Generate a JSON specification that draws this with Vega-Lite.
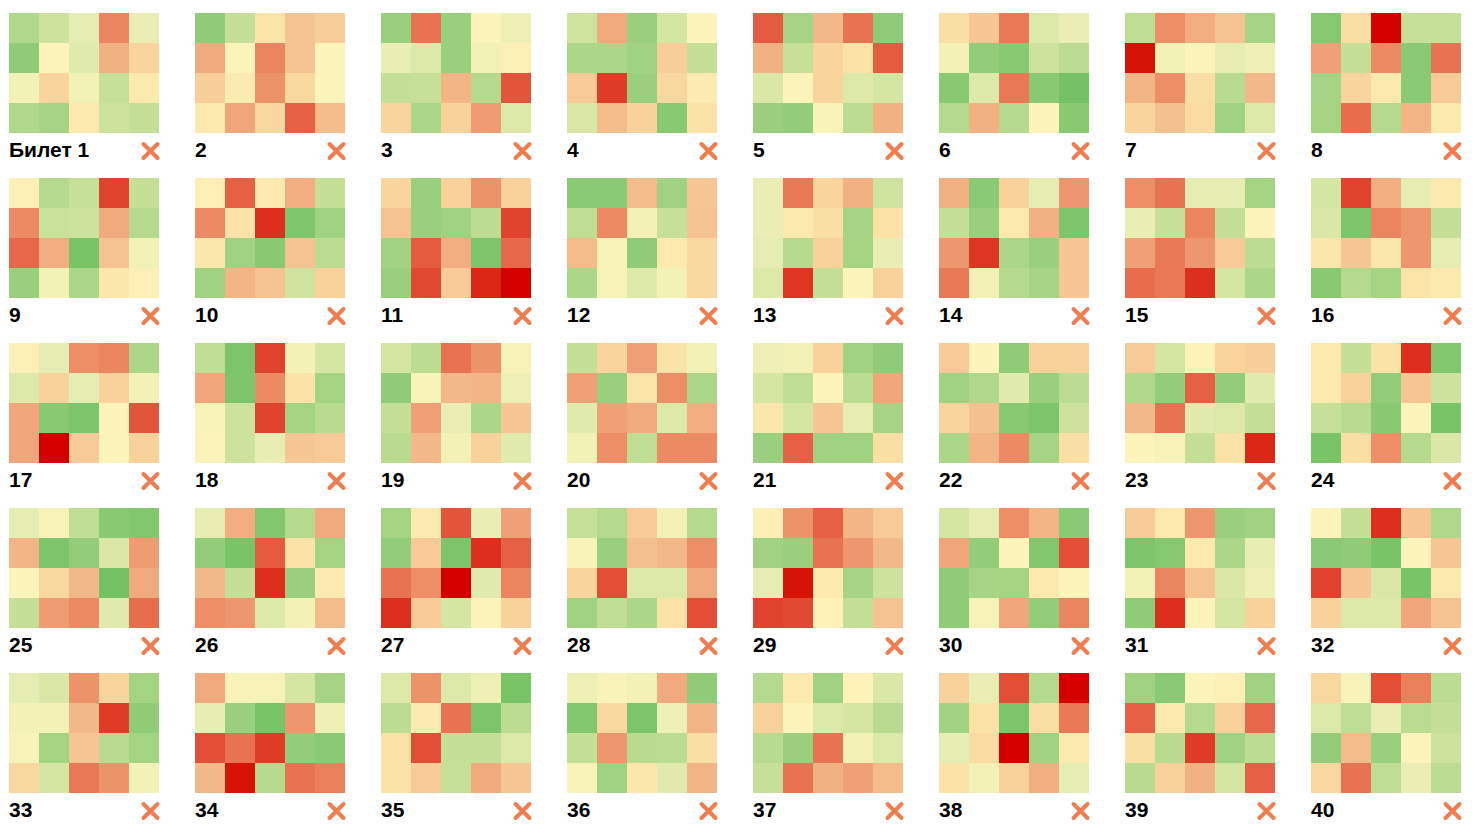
{
"$schema": "https://vega.github.io/schema/vega-lite/v6.json",
"padding": {"left": 9, "top": 13, "right": 0, "bottom": 0},
"autosize": {"type": "pad"},
"background": "white",
"bounds": "flush",
"data": {"values": [
{"t":1,"name":"Билет 1"},{"t":2,"name":"2"},{"t":3,"name":"3"},{"t":4,"name":"4"},{"t":5,"name":"5"},{"t":6,"name":"6"},{"t":7,"name":"7"},{"t":8,"name":"8"},{"t":9,"name":"9"},{"t":10,"name":"10"},
{"t":11,"name":"11"},{"t":12,"name":"12"},{"t":13,"name":"13"},{"t":14,"name":"14"},{"t":15,"name":"15"},{"t":16,"name":"16"},{"t":17,"name":"17"},{"t":18,"name":"18"},{"t":19,"name":"19"},{"t":20,"name":"20"},
{"t":21,"name":"21"},{"t":22,"name":"22"},{"t":23,"name":"23"},{"t":24,"name":"24"},{"t":25,"name":"25"},{"t":26,"name":"26"},{"t":27,"name":"27"},{"t":28,"name":"28"},{"t":29,"name":"29"},{"t":30,"name":"30"},
{"t":31,"name":"31"},{"t":32,"name":"32"},{"t":33,"name":"33"},{"t":34,"name":"34"},{"t":35,"name":"35"},{"t":36,"name":"36"},{"t":37,"name":"37"},{"t":38,"name":"38"},{"t":39,"name":"39"},{"t":40,"name":"40"},
{"t":1,"r":1,"c":1,"v":20},{"t":1,"r":1,"c":2,"v":30},{"t":1,"r":1,"c":3,"v":40},{"t":1,"r":1,"c":4,"v":82},{"t":1,"r":1,"c":5,"v":42},{"t":1,"r":2,"c":1,"v":10},{"t":1,"r":2,"c":2,"v":50},{"t":1,"r":2,"c":3,"v":38},{"t":1,"r":2,"c":4,"v":72},{"t":1,"r":2,"c":5,"v":62},{"t":1,"r":3,"c":1,"v":45},{"t":1,"r":3,"c":2,"v":62},{"t":1,"r":3,"c":3,"v":45},{"t":1,"r":3,"c":4,"v":28},{"t":1,"r":3,"c":5,"v":55},{"t":1,"r":4,"c":1,"v":20},{"t":1,"r":4,"c":2,"v":17},{"t":1,"r":4,"c":3,"v":55},{"t":1,"r":4,"c":4,"v":30},{"t":1,"r":4,"c":5,"v":27},
{"t":2,"r":1,"c":1,"v":10},{"t":2,"r":1,"c":2,"v":27},{"t":2,"r":1,"c":3,"v":57},{"t":2,"r":1,"c":4,"v":67},{"t":2,"r":1,"c":5,"v":64},{"t":2,"r":2,"c":1,"v":74},{"t":2,"r":2,"c":2,"v":50},{"t":2,"r":2,"c":3,"v":82},{"t":2,"r":2,"c":4,"v":67},{"t":2,"r":2,"c":5,"v":50},{"t":2,"r":3,"c":1,"v":64},{"t":2,"r":3,"c":2,"v":54},{"t":2,"r":3,"c":3,"v":79},{"t":2,"r":3,"c":4,"v":61},{"t":2,"r":3,"c":5,"v":50},{"t":2,"r":4,"c":1,"v":55},{"t":2,"r":4,"c":2,"v":75},{"t":2,"r":4,"c":3,"v":61},{"t":2,"r":4,"c":4,"v":88},{"t":2,"r":4,"c":5,"v":69},
{"t":3,"r":1,"c":1,"v":13},{"t":3,"r":1,"c":2,"v":85},{"t":3,"r":1,"c":3,"v":13},{"t":3,"r":1,"c":4,"v":50},{"t":3,"r":1,"c":5,"v":44},{"t":3,"r":2,"c":1,"v":42},{"t":3,"r":2,"c":2,"v":36},{"t":3,"r":2,"c":3,"v":13},{"t":3,"r":2,"c":4,"v":45},{"t":3,"r":2,"c":5,"v":52},{"t":3,"r":3,"c":1,"v":27},{"t":3,"r":3,"c":2,"v":28},{"t":3,"r":3,"c":3,"v":71},{"t":3,"r":3,"c":4,"v":22},{"t":3,"r":3,"c":5,"v":90},{"t":3,"r":4,"c":1,"v":62},{"t":3,"r":4,"c":2,"v":19},{"t":3,"r":4,"c":3,"v":63},{"t":3,"r":4,"c":4,"v":77},{"t":3,"r":4,"c":5,"v":36},
{"t":4,"r":1,"c":1,"v":31},{"t":4,"r":1,"c":2,"v":74},{"t":4,"r":1,"c":3,"v":13},{"t":4,"r":1,"c":4,"v":33},{"t":4,"r":1,"c":5,"v":50},{"t":4,"r":2,"c":1,"v":19},{"t":4,"r":2,"c":2,"v":19},{"t":4,"r":2,"c":3,"v":15},{"t":4,"r":2,"c":4,"v":64},{"t":4,"r":2,"c":5,"v":27},{"t":4,"r":3,"c":1,"v":65},{"t":4,"r":3,"c":2,"v":94},{"t":4,"r":3,"c":3,"v":13},{"t":4,"r":3,"c":4,"v":61},{"t":4,"r":3,"c":5,"v":54},{"t":4,"r":4,"c":1,"v":35},{"t":4,"r":4,"c":2,"v":69},{"t":4,"r":4,"c":3,"v":63},{"t":4,"r":4,"c":4,"v":7},{"t":4,"r":4,"c":5,"v":58},
{"t":5,"r":1,"c":1,"v":89},{"t":5,"r":1,"c":2,"v":17},{"t":5,"r":1,"c":3,"v":70},{"t":5,"r":1,"c":4,"v":85},{"t":5,"r":1,"c":5,"v":10},{"t":5,"r":2,"c":1,"v":72},{"t":5,"r":2,"c":2,"v":28},{"t":5,"r":2,"c":3,"v":62},{"t":5,"r":2,"c":4,"v":58},{"t":5,"r":2,"c":5,"v":89},{"t":5,"r":3,"c":1,"v":35},{"t":5,"r":3,"c":2,"v":50},{"t":5,"r":3,"c":3,"v":62},{"t":5,"r":3,"c":4,"v":36},{"t":5,"r":3,"c":5,"v":33},{"t":5,"r":4,"c":1,"v":13},{"t":5,"r":4,"c":2,"v":11},{"t":5,"r":4,"c":3,"v":48},{"t":5,"r":4,"c":4,"v":24},{"t":5,"r":4,"c":5,"v":72},
{"t":6,"r":1,"c":1,"v":59},{"t":6,"r":1,"c":2,"v":66},{"t":6,"r":1,"c":3,"v":84},{"t":6,"r":1,"c":4,"v":36},{"t":6,"r":1,"c":5,"v":42},{"t":6,"r":2,"c":1,"v":46},{"t":6,"r":2,"c":2,"v":11},{"t":6,"r":2,"c":3,"v":7},{"t":6,"r":2,"c":4,"v":30},{"t":6,"r":2,"c":5,"v":24},{"t":6,"r":3,"c":1,"v":7},{"t":6,"r":3,"c":2,"v":36},{"t":6,"r":3,"c":3,"v":84},{"t":6,"r":3,"c":4,"v":7},{"t":6,"r":3,"c":5,"v":0},{"t":6,"r":4,"c":1,"v":22},{"t":6,"r":4,"c":2,"v":72},{"t":6,"r":4,"c":3,"v":22},{"t":6,"r":4,"c":4,"v":50},{"t":6,"r":4,"c":5,"v":7},
{"t":7,"r":1,"c":1,"v":25},{"t":7,"r":1,"c":2,"v":80},{"t":7,"r":1,"c":3,"v":73},{"t":7,"r":1,"c":4,"v":67},{"t":7,"r":1,"c":5,"v":17},{"t":7,"r":2,"c":1,"v":99},{"t":7,"r":2,"c":2,"v":45},{"t":7,"r":2,"c":3,"v":50},{"t":7,"r":2,"c":4,"v":40},{"t":7,"r":2,"c":5,"v":44},{"t":7,"r":3,"c":1,"v":71},{"t":7,"r":3,"c":2,"v":80},{"t":7,"r":3,"c":3,"v":59},{"t":7,"r":3,"c":4,"v":23},{"t":7,"r":3,"c":5,"v":70},{"t":7,"r":4,"c":1,"v":62},{"t":7,"r":4,"c":2,"v":68},{"t":7,"r":4,"c":3,"v":60},{"t":7,"r":4,"c":4,"v":15},{"t":7,"r":4,"c":5,"v":36},
{"t":8,"r":1,"c":1,"v":6},{"t":8,"r":1,"c":2,"v":59},{"t":8,"r":1,"c":3,"v":100},{"t":8,"r":1,"c":4,"v":28},{"t":8,"r":1,"c":5,"v":28},{"t":8,"r":2,"c":1,"v":76},{"t":8,"r":2,"c":2,"v":27},{"t":8,"r":2,"c":3,"v":81},{"t":8,"r":2,"c":4,"v":8},{"t":8,"r":2,"c":5,"v":85},{"t":8,"r":3,"c":1,"v":17},{"t":8,"r":3,"c":2,"v":62},{"t":8,"r":3,"c":3,"v":55},{"t":8,"r":3,"c":4,"v":8},{"t":8,"r":3,"c":5,"v":65},{"t":8,"r":4,"c":1,"v":16},{"t":8,"r":4,"c":2,"v":86},{"t":8,"r":4,"c":3,"v":22},{"t":8,"r":4,"c":4,"v":71},{"t":8,"r":4,"c":5,"v":55},
{"t":9,"r":1,"c":1,"v":52},{"t":9,"r":1,"c":2,"v":22},{"t":9,"r":1,"c":3,"v":28},{"t":9,"r":1,"c":4,"v":93},{"t":9,"r":1,"c":5,"v":27},{"t":9,"r":2,"c":1,"v":81},{"t":9,"r":2,"c":2,"v":29},{"t":9,"r":2,"c":3,"v":30},{"t":9,"r":2,"c":4,"v":74},{"t":9,"r":2,"c":5,"v":22},{"t":9,"r":3,"c":1,"v":87},{"t":9,"r":3,"c":2,"v":73},{"t":9,"r":3,"c":3,"v":2},{"t":9,"r":3,"c":4,"v":67},{"t":9,"r":3,"c":5,"v":45},{"t":9,"r":4,"c":1,"v":13},{"t":9,"r":4,"c":2,"v":45},{"t":9,"r":4,"c":3,"v":19},{"t":9,"r":4,"c":4,"v":56},{"t":9,"r":4,"c":5,"v":52},
{"t":10,"r":1,"c":1,"v":52},{"t":10,"r":1,"c":2,"v":88},{"t":10,"r":1,"c":3,"v":54},{"t":10,"r":1,"c":4,"v":73},{"t":10,"r":1,"c":5,"v":27},{"t":10,"r":2,"c":1,"v":81},{"t":10,"r":2,"c":2,"v":58},{"t":10,"r":2,"c":3,"v":96},{"t":10,"r":2,"c":4,"v":4},{"t":10,"r":2,"c":5,"v":15},{"t":10,"r":3,"c":1,"v":56},{"t":10,"r":3,"c":2,"v":15},{"t":10,"r":3,"c":3,"v":7},{"t":10,"r":3,"c":4,"v":67},{"t":10,"r":3,"c":5,"v":24},{"t":10,"r":4,"c":1,"v":15},{"t":10,"r":4,"c":2,"v":71},{"t":10,"r":4,"c":3,"v":67},{"t":10,"r":4,"c":4,"v":31},{"t":10,"r":4,"c":5,"v":63},
{"t":11,"r":1,"c":1,"v":62},{"t":11,"r":1,"c":2,"v":13},{"t":11,"r":1,"c":3,"v":63},{"t":11,"r":1,"c":4,"v":79},{"t":11,"r":1,"c":5,"v":63},{"t":11,"r":2,"c":1,"v":67},{"t":11,"r":2,"c":2,"v":13},{"t":11,"r":2,"c":3,"v":15},{"t":11,"r":2,"c":4,"v":24},{"t":11,"r":2,"c":5,"v":93},{"t":11,"r":3,"c":1,"v":15},{"t":11,"r":3,"c":2,"v":89},{"t":11,"r":3,"c":3,"v":73},{"t":11,"r":3,"c":4,"v":3},{"t":11,"r":3,"c":5,"v":87},{"t":11,"r":4,"c":1,"v":13},{"t":11,"r":4,"c":2,"v":92},{"t":11,"r":4,"c":3,"v":65},{"t":11,"r":4,"c":4,"v":97},{"t":11,"r":4,"c":5,"v":100},
{"t":12,"r":1,"c":1,"v":8},{"t":12,"r":1,"c":2,"v":8},{"t":12,"r":1,"c":3,"v":69},{"t":12,"r":1,"c":4,"v":15},{"t":12,"r":1,"c":5,"v":66},{"t":12,"r":2,"c":1,"v":25},{"t":12,"r":2,"c":2,"v":81},{"t":12,"r":2,"c":3,"v":46},{"t":12,"r":2,"c":4,"v":28},{"t":12,"r":2,"c":5,"v":67},{"t":12,"r":3,"c":1,"v":69},{"t":12,"r":3,"c":2,"v":47},{"t":12,"r":3,"c":3,"v":10},{"t":12,"r":3,"c":4,"v":55},{"t":12,"r":3,"c":5,"v":61},{"t":12,"r":4,"c":1,"v":19},{"t":12,"r":4,"c":2,"v":47},{"t":12,"r":4,"c":3,"v":36},{"t":12,"r":4,"c":4,"v":45},{"t":12,"r":4,"c":5,"v":61},
{"t":13,"r":1,"c":1,"v":42},{"t":13,"r":1,"c":2,"v":84},{"t":13,"r":1,"c":3,"v":62},{"t":13,"r":1,"c":4,"v":72},{"t":13,"r":1,"c":5,"v":31},{"t":13,"r":2,"c":1,"v":42},{"t":13,"r":2,"c":2,"v":55},{"t":13,"r":2,"c":3,"v":59},{"t":13,"r":2,"c":4,"v":17},{"t":13,"r":2,"c":5,"v":58},{"t":13,"r":3,"c":1,"v":40},{"t":13,"r":3,"c":2,"v":22},{"t":13,"r":3,"c":3,"v":63},{"t":13,"r":3,"c":4,"v":16},{"t":13,"r":3,"c":5,"v":42},{"t":13,"r":4,"c":1,"v":36},{"t":13,"r":4,"c":2,"v":95},{"t":13,"r":4,"c":3,"v":27},{"t":13,"r":4,"c":4,"v":50},{"t":13,"r":4,"c":5,"v":63},
{"t":14,"r":1,"c":1,"v":72},{"t":14,"r":1,"c":2,"v":8},{"t":14,"r":1,"c":3,"v":63},{"t":14,"r":1,"c":4,"v":40},{"t":14,"r":1,"c":5,"v":78},{"t":14,"r":2,"c":1,"v":27},{"t":14,"r":2,"c":2,"v":13},{"t":14,"r":2,"c":3,"v":55},{"t":14,"r":2,"c":4,"v":72},{"t":14,"r":2,"c":5,"v":3},{"t":14,"r":3,"c":1,"v":78},{"t":14,"r":3,"c":2,"v":95},{"t":14,"r":3,"c":3,"v":19},{"t":14,"r":3,"c":4,"v":13},{"t":14,"r":3,"c":5,"v":66},{"t":14,"r":4,"c":1,"v":84},{"t":14,"r":4,"c":2,"v":46},{"t":14,"r":4,"c":3,"v":22},{"t":14,"r":4,"c":4,"v":17},{"t":14,"r":4,"c":5,"v":66},
{"t":15,"r":1,"c":1,"v":80},{"t":15,"r":1,"c":2,"v":85},{"t":15,"r":1,"c":3,"v":40},{"t":15,"r":1,"c":4,"v":40},{"t":15,"r":1,"c":5,"v":16},{"t":15,"r":2,"c":1,"v":42},{"t":15,"r":2,"c":2,"v":28},{"t":15,"r":2,"c":3,"v":82},{"t":15,"r":2,"c":4,"v":27},{"t":15,"r":2,"c":5,"v":50},{"t":15,"r":3,"c":1,"v":76},{"t":15,"r":3,"c":2,"v":84},{"t":15,"r":3,"c":3,"v":78},{"t":15,"r":3,"c":4,"v":65},{"t":15,"r":3,"c":5,"v":24},{"t":15,"r":4,"c":1,"v":86},{"t":15,"r":4,"c":2,"v":84},{"t":15,"r":4,"c":3,"v":96},{"t":15,"r":4,"c":4,"v":33},{"t":15,"r":4,"c":5,"v":19},
{"t":16,"r":1,"c":1,"v":33},{"t":16,"r":1,"c":2,"v":93},{"t":16,"r":1,"c":3,"v":73},{"t":16,"r":1,"c":4,"v":40},{"t":16,"r":1,"c":5,"v":55},{"t":16,"r":2,"c":1,"v":35},{"t":16,"r":2,"c":2,"v":3},{"t":16,"r":2,"c":3,"v":82},{"t":16,"r":2,"c":4,"v":78},{"t":16,"r":2,"c":5,"v":27},{"t":16,"r":3,"c":1,"v":56},{"t":16,"r":3,"c":2,"v":66},{"t":16,"r":3,"c":3,"v":56},{"t":16,"r":3,"c":4,"v":78},{"t":16,"r":3,"c":5,"v":40},{"t":16,"r":4,"c":1,"v":7},{"t":16,"r":4,"c":2,"v":22},{"t":16,"r":4,"c":3,"v":16},{"t":16,"r":4,"c":4,"v":57},{"t":16,"r":4,"c":5,"v":55},
{"t":17,"r":1,"c":1,"v":52},{"t":17,"r":1,"c":2,"v":40},{"t":17,"r":1,"c":3,"v":80},{"t":17,"r":1,"c":4,"v":82},{"t":17,"r":1,"c":5,"v":19},{"t":17,"r":2,"c":1,"v":36},{"t":17,"r":2,"c":2,"v":63},{"t":17,"r":2,"c":3,"v":40},{"t":17,"r":2,"c":4,"v":63},{"t":17,"r":2,"c":5,"v":46},{"t":17,"r":3,"c":1,"v":75},{"t":17,"r":3,"c":2,"v":7},{"t":17,"r":3,"c":3,"v":3},{"t":17,"r":3,"c":4,"v":50},{"t":17,"r":3,"c":5,"v":90},{"t":17,"r":4,"c":1,"v":75},{"t":17,"r":4,"c":2,"v":100},{"t":17,"r":4,"c":3,"v":65},{"t":17,"r":4,"c":4,"v":50},{"t":17,"r":4,"c":5,"v":63},
{"t":18,"r":1,"c":1,"v":25},{"t":18,"r":1,"c":2,"v":3},{"t":18,"r":1,"c":3,"v":93},{"t":18,"r":1,"c":4,"v":46},{"t":18,"r":1,"c":5,"v":33},{"t":18,"r":2,"c":1,"v":75},{"t":18,"r":2,"c":2,"v":3},{"t":18,"r":2,"c":3,"v":81},{"t":18,"r":2,"c":4,"v":58},{"t":18,"r":2,"c":5,"v":16},{"t":18,"r":3,"c":1,"v":48},{"t":18,"r":3,"c":2,"v":30},{"t":18,"r":3,"c":3,"v":93},{"t":18,"r":3,"c":4,"v":16},{"t":18,"r":3,"c":5,"v":23},{"t":18,"r":4,"c":1,"v":49},{"t":18,"r":4,"c":2,"v":30},{"t":18,"r":4,"c":3,"v":41},{"t":18,"r":4,"c":4,"v":66},{"t":18,"r":4,"c":5,"v":65},
{"t":19,"r":1,"c":1,"v":33},{"t":19,"r":1,"c":2,"v":24},{"t":19,"r":1,"c":3,"v":85},{"t":19,"r":1,"c":4,"v":79},{"t":19,"r":1,"c":5,"v":47},{"t":19,"r":2,"c":1,"v":10},{"t":19,"r":2,"c":2,"v":48},{"t":19,"r":2,"c":3,"v":70},{"t":19,"r":2,"c":4,"v":71},{"t":19,"r":2,"c":5,"v":43},{"t":19,"r":3,"c":1,"v":27},{"t":19,"r":3,"c":2,"v":76},{"t":19,"r":3,"c":3,"v":42},{"t":19,"r":3,"c":4,"v":19},{"t":19,"r":3,"c":5,"v":66},{"t":19,"r":4,"c":1,"v":23},{"t":19,"r":4,"c":2,"v":70},{"t":19,"r":4,"c":3,"v":46},{"t":19,"r":4,"c":4,"v":63},{"t":19,"r":4,"c":5,"v":38},
{"t":20,"r":1,"c":1,"v":27},{"t":20,"r":1,"c":2,"v":62},{"t":20,"r":1,"c":3,"v":76},{"t":20,"r":1,"c":4,"v":58},{"t":20,"r":1,"c":5,"v":45},{"t":20,"r":2,"c":1,"v":76},{"t":20,"r":2,"c":2,"v":13},{"t":20,"r":2,"c":3,"v":57},{"t":20,"r":2,"c":4,"v":80},{"t":20,"r":2,"c":5,"v":19},{"t":20,"r":3,"c":1,"v":38},{"t":20,"r":3,"c":2,"v":76},{"t":20,"r":3,"c":3,"v":74},{"t":20,"r":3,"c":4,"v":36},{"t":20,"r":3,"c":5,"v":73},{"t":20,"r":4,"c":1,"v":45},{"t":20,"r":4,"c":2,"v":80},{"t":20,"r":4,"c":3,"v":25},{"t":20,"r":4,"c":4,"v":81},{"t":20,"r":4,"c":5,"v":81},
{"t":21,"r":1,"c":1,"v":44},{"t":21,"r":1,"c":2,"v":46},{"t":21,"r":1,"c":3,"v":63},{"t":21,"r":1,"c":4,"v":15},{"t":21,"r":1,"c":5,"v":10},{"t":21,"r":2,"c":1,"v":33},{"t":21,"r":2,"c":2,"v":25},{"t":21,"r":2,"c":3,"v":50},{"t":21,"r":2,"c":4,"v":24},{"t":21,"r":2,"c":5,"v":75},{"t":21,"r":3,"c":1,"v":56},{"t":21,"r":3,"c":2,"v":33},{"t":21,"r":3,"c":3,"v":66},{"t":21,"r":3,"c":4,"v":40},{"t":21,"r":3,"c":5,"v":17},{"t":21,"r":4,"c":1,"v":13},{"t":21,"r":4,"c":2,"v":88},{"t":21,"r":4,"c":3,"v":15},{"t":21,"r":4,"c":4,"v":15},{"t":21,"r":4,"c":5,"v":59},
{"t":22,"r":1,"c":1,"v":65},{"t":22,"r":1,"c":2,"v":50},{"t":22,"r":1,"c":3,"v":10},{"t":22,"r":1,"c":4,"v":63},{"t":22,"r":1,"c":5,"v":63},{"t":22,"r":2,"c":1,"v":15},{"t":22,"r":2,"c":2,"v":20},{"t":22,"r":2,"c":3,"v":38},{"t":22,"r":2,"c":4,"v":13},{"t":22,"r":2,"c":5,"v":24},{"t":22,"r":3,"c":1,"v":62},{"t":22,"r":3,"c":2,"v":68},{"t":22,"r":3,"c":3,"v":7},{"t":22,"r":3,"c":4,"v":3},{"t":22,"r":3,"c":5,"v":30},{"t":22,"r":4,"c":1,"v":19},{"t":22,"r":4,"c":2,"v":71},{"t":22,"r":4,"c":3,"v":81},{"t":22,"r":4,"c":4,"v":17},{"t":22,"r":4,"c":5,"v":59},
{"t":23,"r":1,"c":1,"v":65},{"t":23,"r":1,"c":2,"v":33},{"t":23,"r":1,"c":3,"v":51},{"t":23,"r":1,"c":4,"v":62},{"t":23,"r":1,"c":5,"v":64},{"t":23,"r":2,"c":1,"v":20},{"t":23,"r":2,"c":2,"v":11},{"t":23,"r":2,"c":3,"v":88},{"t":23,"r":2,"c":4,"v":11},{"t":23,"r":2,"c":5,"v":38},{"t":23,"r":3,"c":1,"v":70},{"t":23,"r":3,"c":2,"v":85},{"t":23,"r":3,"c":3,"v":38},{"t":23,"r":3,"c":4,"v":36},{"t":23,"r":3,"c":5,"v":27},{"t":23,"r":4,"c":1,"v":50},{"t":23,"r":4,"c":2,"v":47},{"t":23,"r":4,"c":3,"v":27},{"t":23,"r":4,"c":4,"v":58},{"t":23,"r":4,"c":5,"v":97},
{"t":24,"r":1,"c":1,"v":55},{"t":24,"r":1,"c":2,"v":27},{"t":24,"r":1,"c":3,"v":58},{"t":24,"r":1,"c":4,"v":96},{"t":24,"r":1,"c":5,"v":5},{"t":24,"r":2,"c":1,"v":55},{"t":24,"r":2,"c":2,"v":63},{"t":24,"r":2,"c":3,"v":11},{"t":24,"r":2,"c":4,"v":66},{"t":24,"r":2,"c":5,"v":30},{"t":24,"r":3,"c":1,"v":28},{"t":24,"r":3,"c":2,"v":23},{"t":24,"r":3,"c":3,"v":7},{"t":24,"r":3,"c":4,"v":50},{"t":24,"r":3,"c":5,"v":2},{"t":24,"r":4,"c":1,"v":2},{"t":24,"r":4,"c":2,"v":59},{"t":24,"r":4,"c":3,"v":80},{"t":24,"r":4,"c":4,"v":22},{"t":24,"r":4,"c":5,"v":35},
{"t":25,"r":1,"c":1,"v":40},{"t":25,"r":1,"c":2,"v":47},{"t":25,"r":1,"c":3,"v":25},{"t":25,"r":1,"c":4,"v":7},{"t":25,"r":1,"c":5,"v":5},{"t":25,"r":2,"c":1,"v":71},{"t":25,"r":2,"c":2,"v":3},{"t":25,"r":2,"c":3,"v":11},{"t":25,"r":2,"c":4,"v":35},{"t":25,"r":2,"c":5,"v":77},{"t":25,"r":3,"c":1,"v":50},{"t":25,"r":3,"c":2,"v":61},{"t":25,"r":3,"c":3,"v":70},{"t":25,"r":3,"c":4,"v":0},{"t":25,"r":3,"c":5,"v":74},{"t":25,"r":4,"c":1,"v":27},{"t":25,"r":4,"c":2,"v":77},{"t":25,"r":4,"c":3,"v":81},{"t":25,"r":4,"c":4,"v":38},{"t":25,"r":4,"c":5,"v":86},
{"t":26,"r":1,"c":1,"v":40},{"t":26,"r":1,"c":2,"v":73},{"t":26,"r":1,"c":3,"v":5},{"t":26,"r":1,"c":4,"v":22},{"t":26,"r":1,"c":5,"v":74},{"t":26,"r":2,"c":1,"v":11},{"t":26,"r":2,"c":2,"v":2},{"t":26,"r":2,"c":3,"v":89},{"t":26,"r":2,"c":4,"v":58},{"t":26,"r":2,"c":5,"v":16},{"t":26,"r":3,"c":1,"v":70},{"t":26,"r":3,"c":2,"v":27},{"t":26,"r":3,"c":3,"v":96},{"t":26,"r":3,"c":4,"v":13},{"t":26,"r":3,"c":5,"v":54},{"t":26,"r":4,"c":1,"v":80},{"t":26,"r":4,"c":2,"v":78},{"t":26,"r":4,"c":3,"v":36},{"t":26,"r":4,"c":4,"v":46},{"t":26,"r":4,"c":5,"v":69},
{"t":27,"r":1,"c":1,"v":16},{"t":27,"r":1,"c":2,"v":54},{"t":27,"r":1,"c":3,"v":90},{"t":27,"r":1,"c":4,"v":42},{"t":27,"r":1,"c":5,"v":76},{"t":27,"r":2,"c":1,"v":11},{"t":27,"r":2,"c":2,"v":65},{"t":27,"r":2,"c":3,"v":3},{"t":27,"r":2,"c":4,"v":96},{"t":27,"r":2,"c":5,"v":88},{"t":27,"r":3,"c":1,"v":85},{"t":27,"r":3,"c":2,"v":80},{"t":27,"r":3,"c":3,"v":100},{"t":27,"r":3,"c":4,"v":38},{"t":27,"r":3,"c":5,"v":82},{"t":27,"r":4,"c":1,"v":96},{"t":27,"r":4,"c":2,"v":65},{"t":27,"r":4,"c":3,"v":33},{"t":27,"r":4,"c":4,"v":50},{"t":27,"r":4,"c":5,"v":63},
{"t":28,"r":1,"c":1,"v":28},{"t":28,"r":1,"c":2,"v":22},{"t":28,"r":1,"c":3,"v":65},{"t":28,"r":1,"c":4,"v":46},{"t":28,"r":1,"c":5,"v":22},{"t":28,"r":2,"c":1,"v":48},{"t":28,"r":2,"c":2,"v":13},{"t":28,"r":2,"c":3,"v":68},{"t":28,"r":2,"c":4,"v":70},{"t":28,"r":2,"c":5,"v":80},{"t":28,"r":3,"c":1,"v":62},{"t":28,"r":3,"c":2,"v":91},{"t":28,"r":3,"c":3,"v":36},{"t":28,"r":3,"c":4,"v":36},{"t":28,"r":3,"c":5,"v":74},{"t":28,"r":4,"c":1,"v":15},{"t":28,"r":4,"c":2,"v":25},{"t":28,"r":4,"c":3,"v":19},{"t":28,"r":4,"c":4,"v":58},{"t":28,"r":4,"c":5,"v":91},
{"t":29,"r":1,"c":1,"v":52},{"t":29,"r":1,"c":2,"v":79},{"t":29,"r":1,"c":3,"v":88},{"t":29,"r":1,"c":4,"v":71},{"t":29,"r":1,"c":5,"v":65},{"t":29,"r":2,"c":1,"v":15},{"t":29,"r":2,"c":2,"v":13},{"t":29,"r":2,"c":3,"v":85},{"t":29,"r":2,"c":4,"v":78},{"t":29,"r":2,"c":5,"v":70},{"t":29,"r":3,"c":1,"v":40},{"t":29,"r":3,"c":2,"v":99},{"t":29,"r":3,"c":3,"v":55},{"t":29,"r":3,"c":4,"v":17},{"t":29,"r":3,"c":5,"v":30},{"t":29,"r":4,"c":1,"v":93},{"t":29,"r":4,"c":2,"v":92},{"t":29,"r":4,"c":3,"v":51},{"t":29,"r":4,"c":4,"v":27},{"t":29,"r":4,"c":5,"v":67},
{"t":30,"r":1,"c":1,"v":33},{"t":30,"r":1,"c":2,"v":40},{"t":30,"r":1,"c":3,"v":80},{"t":30,"r":1,"c":4,"v":71},{"t":30,"r":1,"c":5,"v":8},{"t":30,"r":2,"c":1,"v":75},{"t":30,"r":2,"c":2,"v":11},{"t":30,"r":2,"c":3,"v":50},{"t":30,"r":2,"c":4,"v":5},{"t":30,"r":2,"c":5,"v":91},{"t":30,"r":3,"c":1,"v":10},{"t":30,"r":3,"c":2,"v":17},{"t":30,"r":3,"c":3,"v":16},{"t":30,"r":3,"c":4,"v":55},{"t":30,"r":3,"c":5,"v":50},{"t":30,"r":4,"c":1,"v":10},{"t":30,"r":4,"c":2,"v":47},{"t":30,"r":4,"c":3,"v":75},{"t":30,"r":4,"c":4,"v":11},{"t":30,"r":4,"c":5,"v":82},
{"t":31,"r":1,"c":1,"v":65},{"t":31,"r":1,"c":2,"v":55},{"t":31,"r":1,"c":3,"v":78},{"t":31,"r":1,"c":4,"v":13},{"t":31,"r":1,"c":5,"v":15},{"t":31,"r":2,"c":1,"v":3},{"t":31,"r":2,"c":2,"v":6},{"t":31,"r":2,"c":3,"v":55},{"t":31,"r":2,"c":4,"v":19},{"t":31,"r":2,"c":5,"v":41},{"t":31,"r":3,"c":1,"v":45},{"t":31,"r":3,"c":2,"v":82},{"t":31,"r":3,"c":3,"v":67},{"t":31,"r":3,"c":4,"v":35},{"t":31,"r":3,"c":5,"v":44},{"t":31,"r":4,"c":1,"v":10},{"t":31,"r":4,"c":2,"v":96},{"t":31,"r":4,"c":3,"v":50},{"t":31,"r":4,"c":4,"v":33},{"t":31,"r":4,"c":5,"v":63},
{"t":32,"r":1,"c":1,"v":50},{"t":32,"r":1,"c":2,"v":27},{"t":32,"r":1,"c":3,"v":96},{"t":32,"r":1,"c":4,"v":66},{"t":32,"r":1,"c":5,"v":20},{"t":32,"r":2,"c":1,"v":8},{"t":32,"r":2,"c":2,"v":10},{"t":32,"r":2,"c":3,"v":2},{"t":32,"r":2,"c":4,"v":50},{"t":32,"r":2,"c":5,"v":66},{"t":32,"r":3,"c":1,"v":93},{"t":32,"r":3,"c":2,"v":66},{"t":32,"r":3,"c":3,"v":35},{"t":32,"r":3,"c":4,"v":2},{"t":32,"r":3,"c":5,"v":55},{"t":32,"r":4,"c":1,"v":63},{"t":32,"r":4,"c":2,"v":36},{"t":32,"r":4,"c":3,"v":36},{"t":32,"r":4,"c":4,"v":75},{"t":32,"r":4,"c":5,"v":67},
{"t":33,"r":1,"c":1,"v":40},{"t":33,"r":1,"c":2,"v":35},{"t":33,"r":1,"c":3,"v":79},{"t":33,"r":1,"c":4,"v":62},{"t":33,"r":1,"c":5,"v":16},{"t":33,"r":2,"c":1,"v":46},{"t":33,"r":2,"c":2,"v":46},{"t":33,"r":2,"c":3,"v":70},{"t":33,"r":2,"c":4,"v":94},{"t":33,"r":2,"c":5,"v":10},{"t":33,"r":3,"c":1,"v":48},{"t":33,"r":3,"c":2,"v":16},{"t":33,"r":3,"c":3,"v":66},{"t":33,"r":3,"c":4,"v":23},{"t":33,"r":3,"c":5,"v":16},{"t":33,"r":4,"c":1,"v":61},{"t":33,"r":4,"c":2,"v":33},{"t":33,"r":4,"c":3,"v":84},{"t":33,"r":4,"c":4,"v":79},{"t":33,"r":4,"c":5,"v":45},
{"t":34,"r":1,"c":1,"v":74},{"t":34,"r":1,"c":2,"v":47},{"t":34,"r":1,"c":3,"v":47},{"t":34,"r":1,"c":4,"v":33},{"t":34,"r":1,"c":5,"v":17},{"t":34,"r":2,"c":1,"v":41},{"t":34,"r":2,"c":2,"v":13},{"t":34,"r":2,"c":3,"v":2},{"t":34,"r":2,"c":4,"v":78},{"t":34,"r":2,"c":5,"v":44},{"t":34,"r":3,"c":1,"v":91},{"t":34,"r":3,"c":2,"v":85},{"t":34,"r":3,"c":3,"v":94},{"t":34,"r":3,"c":4,"v":11},{"t":34,"r":3,"c":5,"v":8},{"t":34,"r":4,"c":1,"v":70},{"t":34,"r":4,"c":2,"v":99},{"t":34,"r":4,"c":3,"v":22},{"t":34,"r":4,"c":4,"v":85},{"t":34,"r":4,"c":5,"v":83},
{"t":35,"r":1,"c":1,"v":36},{"t":35,"r":1,"c":2,"v":79},{"t":35,"r":1,"c":3,"v":36},{"t":35,"r":1,"c":4,"v":44},{"t":35,"r":1,"c":5,"v":2},{"t":35,"r":2,"c":1,"v":24},{"t":35,"r":2,"c":2,"v":54},{"t":35,"r":2,"c":3,"v":85},{"t":35,"r":2,"c":4,"v":3},{"t":35,"r":2,"c":5,"v":24},{"t":35,"r":3,"c":1,"v":58},{"t":35,"r":3,"c":2,"v":91},{"t":35,"r":3,"c":3,"v":27},{"t":35,"r":3,"c":4,"v":27},{"t":35,"r":3,"c":5,"v":36},{"t":35,"r":4,"c":1,"v":58},{"t":35,"r":4,"c":2,"v":65},{"t":35,"r":4,"c":3,"v":28},{"t":35,"r":4,"c":4,"v":74},{"t":35,"r":4,"c":5,"v":66},
{"t":36,"r":1,"c":1,"v":44},{"t":36,"r":1,"c":2,"v":48},{"t":36,"r":1,"c":3,"v":45},{"t":36,"r":1,"c":4,"v":74},{"t":36,"r":1,"c":5,"v":10},{"t":36,"r":2,"c":1,"v":5},{"t":36,"r":2,"c":2,"v":61},{"t":36,"r":2,"c":3,"v":3},{"t":36,"r":2,"c":4,"v":44},{"t":36,"r":2,"c":5,"v":71},{"t":36,"r":3,"c":1,"v":27},{"t":36,"r":3,"c":2,"v":78},{"t":36,"r":3,"c":3,"v":23},{"t":36,"r":3,"c":4,"v":24},{"t":36,"r":3,"c":5,"v":59},{"t":36,"r":4,"c":1,"v":48},{"t":36,"r":4,"c":2,"v":15},{"t":36,"r":4,"c":3,"v":56},{"t":36,"r":4,"c":4,"v":38},{"t":36,"r":4,"c":5,"v":71},
{"t":37,"r":1,"c":1,"v":22},{"t":37,"r":1,"c":2,"v":55},{"t":37,"r":1,"c":3,"v":15},{"t":37,"r":1,"c":4,"v":51},{"t":37,"r":1,"c":5,"v":35},{"t":37,"r":2,"c":1,"v":63},{"t":37,"r":2,"c":2,"v":50},{"t":37,"r":2,"c":3,"v":36},{"t":37,"r":2,"c":4,"v":33},{"t":37,"r":2,"c":5,"v":23},{"t":37,"r":3,"c":1,"v":23},{"t":37,"r":3,"c":2,"v":13},{"t":37,"r":3,"c":3,"v":85},{"t":37,"r":3,"c":4,"v":46},{"t":37,"r":3,"c":5,"v":36},{"t":37,"r":4,"c":1,"v":28},{"t":37,"r":4,"c":2,"v":85},{"t":37,"r":4,"c":3,"v":72},{"t":37,"r":4,"c":4,"v":76},{"t":37,"r":4,"c":5,"v":69},
{"t":38,"r":1,"c":1,"v":63},{"t":38,"r":1,"c":2,"v":42},{"t":38,"r":1,"c":3,"v":91},{"t":38,"r":1,"c":4,"v":22},{"t":38,"r":1,"c":5,"v":100},{"t":38,"r":2,"c":1,"v":15},{"t":38,"r":2,"c":2,"v":58},{"t":38,"r":2,"c":3,"v":3},{"t":38,"r":2,"c":4,"v":59},{"t":38,"r":2,"c":5,"v":84},{"t":38,"r":3,"c":1,"v":40},{"t":38,"r":3,"c":2,"v":60},{"t":38,"r":3,"c":3,"v":100},{"t":38,"r":3,"c":4,"v":15},{"t":38,"r":3,"c":5,"v":55},{"t":38,"r":4,"c":1,"v":58},{"t":38,"r":4,"c":2,"v":46},{"t":38,"r":4,"c":3,"v":63},{"t":38,"r":4,"c":4,"v":73},{"t":38,"r":4,"c":5,"v":40},
{"t":39,"r":1,"c":1,"v":15},{"t":39,"r":1,"c":2,"v":8},{"t":39,"r":1,"c":3,"v":50},{"t":39,"r":1,"c":4,"v":52},{"t":39,"r":1,"c":5,"v":15},{"t":39,"r":2,"c":1,"v":88},{"t":39,"r":2,"c":2,"v":55},{"t":39,"r":2,"c":3,"v":22},{"t":39,"r":2,"c":4,"v":63},{"t":39,"r":2,"c":5,"v":87},{"t":39,"r":3,"c":1,"v":59},{"t":39,"r":3,"c":2,"v":23},{"t":39,"r":3,"c":3,"v":94},{"t":39,"r":3,"c":4,"v":15},{"t":39,"r":3,"c":5,"v":24},{"t":39,"r":4,"c":1,"v":23},{"t":39,"r":4,"c":2,"v":63},{"t":39,"r":4,"c":3,"v":72},{"t":39,"r":4,"c":4,"v":33},{"t":39,"r":4,"c":5,"v":88},
{"t":40,"r":1,"c":1,"v":61},{"t":40,"r":1,"c":2,"v":48},{"t":40,"r":1,"c":3,"v":91},{"t":40,"r":1,"c":4,"v":83},{"t":40,"r":1,"c":5,"v":24},{"t":40,"r":2,"c":1,"v":36},{"t":40,"r":2,"c":2,"v":25},{"t":40,"r":2,"c":3,"v":42},{"t":40,"r":2,"c":4,"v":24},{"t":40,"r":2,"c":5,"v":27},{"t":40,"r":3,"c":1,"v":11},{"t":40,"r":3,"c":2,"v":69},{"t":40,"r":3,"c":3,"v":13},{"t":40,"r":3,"c":4,"v":50},{"t":40,"r":3,"c":5,"v":30},{"t":40,"r":4,"c":1,"v":61},{"t":40,"r":4,"c":2,"v":85},{"t":40,"r":4,"c":3,"v":25},{"t":40,"r":4,"c":4,"v":42},{"t":40,"r":4,"c":5,"v":24}
]},
"columns": 8,
"spacing": {"row": 15, "column": 36},
"facet": {"field": "t", "type": "ordinal", "title": null, "header": {"title": null, "labels": false, "labelExpr": "''", "labelPadding": 0, "titlePadding": 0}},
"spec": {
  "width": 150,
  "height": 150,
  "layer": [
    {
      "transform": [{"filter": "isValid(datum.v)"}],
      "mark": {"type": "rect", "strokeWidth": 0},
      "encoding": {
        "x": {"field": "c", "type": "ordinal", "axis": null, "scale": {"domain": [1,2,3,4,5], "paddingInner": 0, "paddingOuter": 0}},
        "y": {"field": "r", "type": "ordinal", "axis": null, "scale": {"domain": [1,2,3,4,5], "paddingInner": 0, "paddingOuter": 0}},
        "color": {"field": "v", "type": "quantitative", "legend": null,
          "scale": {"domain": [0,10,20,30,40,50,58,66,74,82,88,94,100],
                    "range": ["#74c264","#90cc78","#b0d88a","#cde29c","#e6edb2","#fdf4bb","#fbe2a6","#f6c795","#f1a97e","#eb8560","#e56045","#df3c28","#d40000"]}}
      }
    },
    {
      "transform": [{"filter": "isValid(datum.name)"}],
      "mark": {"type": "text", "align": "left", "baseline": "alphabetic", "dx": -15, "dy": 9, "font": "Liberation Sans", "fontWeight": "bold", "fontSize": 21, "color": "#000000"},
      "encoding": {
        "x": {"datum": 1, "type": "ordinal"},
        "y": {"datum": 5, "type": "ordinal"},
        "text": {"field": "name", "type": "nominal"}
      }
    },
    {
      "transform": [{"filter": "isValid(datum.name)"}],
      "mark": {"type": "point", "shape": "M -1 -1 L 1 1 M 1 -1 L -1 1", "filled": false, "stroke": "#ef7d50", "strokeWidth": 4, "strokeCap": "round", "size": 196, "opacity": 1, "xOffset": 6.5, "yOffset": 3},
      "encoding": {
        "x": {"datum": 5, "type": "ordinal"},
        "y": {"datum": 5, "type": "ordinal"}
      }
    }
  ]
},
"config": {
  "view": {"stroke": null},
  "header": {"labels": false, "title": null, "labelExpr": "''", "labelPadding": 0, "titlePadding": 0, "labelFontSize": 0},
  "headerFacet": {"labels": false, "title": null, "labelExpr": "''", "labelPadding": 0, "titlePadding": 0, "labelFontSize": 0}
}
}
